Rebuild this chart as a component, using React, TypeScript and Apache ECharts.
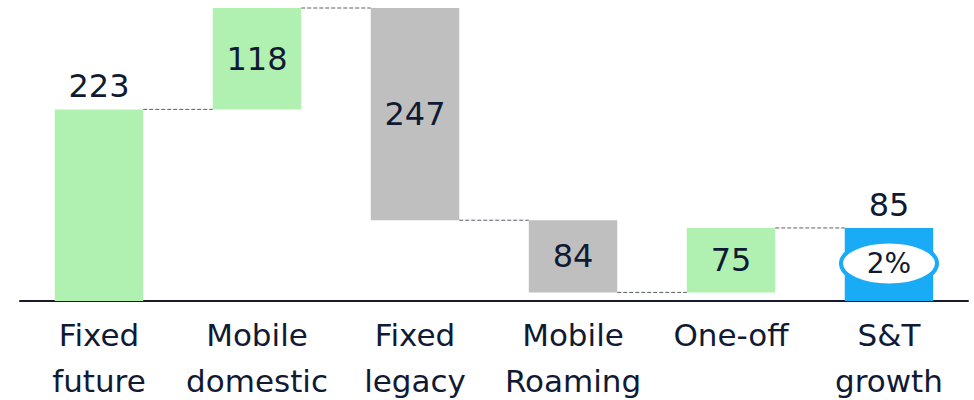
import React, { useEffect, useRef } from "react";
import * as echarts from "echarts";

const categories = ["Fixed\nfuture", "Mobile\ndomestic", "Fixed\nlegacy", "Mobile\nRoaming", "One-off", "S&T\ngrowth"];
const changes = [223, 118, -247, -84, 75, 85];
const kinds = ["start", "up", "down", "down", "up", "total"];
const growthLabel = "2%";

const GREEN = "#b0f0b0";
const GREY = "#bfbfbf";
const BLUE = "#1aabf7";
const TEXT = "#111a33";
const FONT = "'DejaVu Sans', Verdana, sans-serif";

export default function App() {
  const ref = useRef<HTMLDivElement>(null);
  useEffect(() => {
    document.body.style.margin = "0";
    if (!ref.current) return;
    const chart = echarts.init(ref.current, undefined, { renderer: "svg" });

    const bases: number[] = [];
    const heights: number[] = [];
    const levels: number[] = [];
    let cum = 0;
    changes.forEach((v, i) => {
      if (kinds[i] === "total" || kinds[i] === "start") {
        bases.push(0);
        heights.push(v);
        cum = v;
      } else if (v >= 0) {
        bases.push(cum);
        heights.push(v);
        cum += v;
      } else {
        cum += v;
        bases.push(cum);
        heights.push(-v);
      }
      levels.push(cum);
    });
    const maxVal = Math.max(...bases.map((b, i) => b + heights[i]));
    const colors = kinds.map((k) => (k === "total" ? BLUE : k === "down" ? GREY : GREEN));
    const barRatio = 0.56;

    chart.setOption({
      animation: false,
      grid: { left: 20, right: 6, top: 8, bottom: 99, containLabel: false, outerBoundsMode: "none" },
      xAxis: {
        type: "category",
        data: categories,
        axisLine: { lineStyle: { color: "#1a1a2e", width: 2 } },
        axisTick: { show: false },
        axisLabel: { fontSize: 31, lineHeight: 46, color: TEXT, fontFamily: FONT, margin: 11, interval: 0 },
      },
      yAxis: { type: "value", min: 0, max: maxVal, show: false, splitLine: { show: false } },
      series: [
        {
          type: "bar",
          stack: "w",
          data: bases,
          itemStyle: { color: "transparent" },
          barWidth: barRatio * 100 + "%",
          silent: true,
        },
        {
          type: "bar",
          stack: "w",
          barWidth: barRatio * 100 + "%",
          data: heights.map((h, i) => ({
            value: h,
            itemStyle: { color: colors[i] },
            label: {
              show: true,
              position: kinds[i] === "start" || kinds[i] === "total" ? "top" : "inside",
              distance: 7,
            },
          })),
          label: {
            show: true,
            fontSize: 32,
            color: TEXT,
            fontFamily: FONT,
            formatter: (p: any) => String(Math.abs(changes[p.dataIndex])),
          },
        },
        {
          type: "custom",
          data: levels.slice(0, levels.length - 1).map((l, i) => [i, l]),
          z: 5,
          renderItem: (params: any, api: any) => {
            const i = api.value(0);
            const l = api.value(1);
            const p = api.coord([i, l]);
            const bw = api.size([1, 0])[0];
            const half = (bw * barRatio) / 2;
            return {
              type: "line",
              shape: { x1: p[0] + half, y1: p[1], x2: p[0] + bw - half, y2: p[1] },
              style: { stroke: "#5c5c68", lineWidth: 1, lineDash: [4, 2] },
            };
          },
        },
        {
          type: "custom",
          data: [[categories.length - 1, levels[levels.length - 1]]],
          z: 6,
          renderItem: (params: any, api: any) => {
            const i = api.value(0);
            const l = api.value(1);
            const p = api.coord([i, l / 2]);
            return {
              type: "group",
              children: [
                {
                  type: "ellipse",
                  shape: { cx: p[0], cy: p[1] - 1, rx: 48, ry: 22 },
                  style: { fill: "#ffffff", stroke: BLUE, lineWidth: 4 },
                },
                {
                  type: "text",
                  x: p[0],
                  y: p[1] - 1,
                  style: {
                    text: growthLabel,
                    fontSize: 28,
                    fontFamily: FONT,
                    fill: TEXT,
                    align: "center",
                    verticalAlign: "middle",
                  },
                },
              ],
            };
          },
        },
      ],
    });
    return () => chart.dispose();
  }, []);
  return <div ref={ref} style={{ width: 974, height: 400 }} />;
}
